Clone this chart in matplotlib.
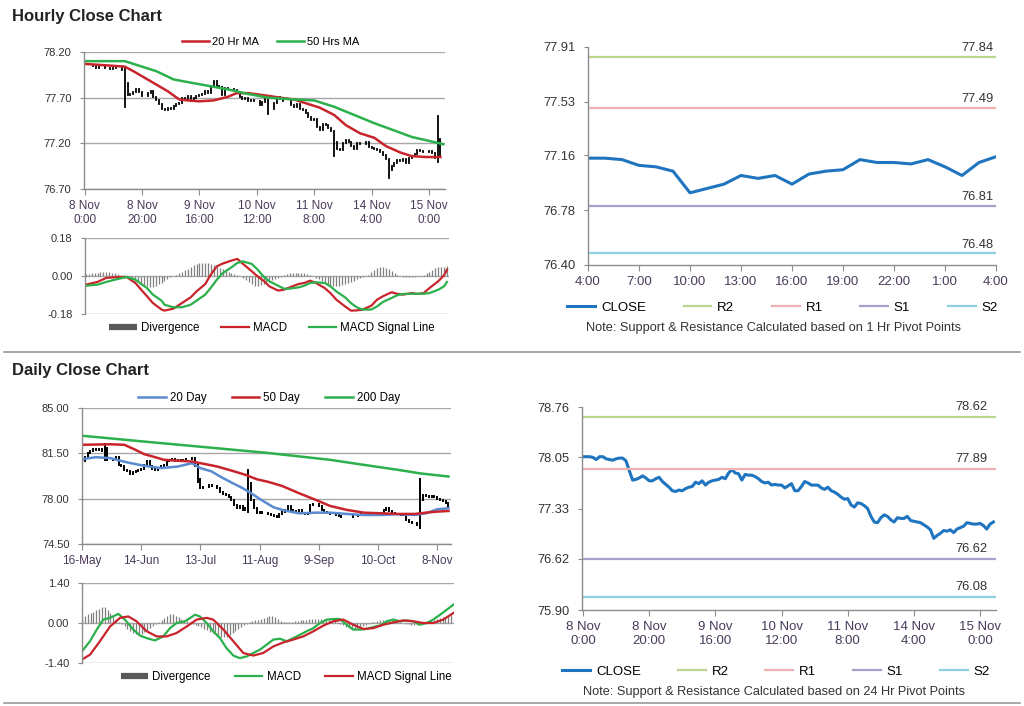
import numpy as np
import matplotlib
matplotlib.use('Agg')
import matplotlib.pyplot as plt
from matplotlib.lines import Line2D

plt.rcParams['font.family'] = ['Liberation Sans', 'DejaVu Sans']

# ---------------- hourly data (8 Nov 0:00 -> 15 Nov) ----------------
hr_labels = ['8 Nov\n0:00', '8 Nov\n20:00', '9 Nov\n16:00', '10 Nov\n12:00',
             '11 Nov\n8:00', '14 Nov\n4:00', '15 Nov\n0:00']
hr_close = [78.06, 78.06, 78.06, 78.05, 78.02, 78.06, 78.06, 78.03, 78.02, 78.01,
            78.03, 78.04, 78.04, 78.00, 77.86, 77.73, 77.74, 77.76, 77.79, 77.76,
            77.72, 77.72, 77.75, 77.77, 77.71, 77.67, 77.63, 77.58, 77.57, 77.59,
            77.58, 77.61, 77.63, 77.64, 77.70, 77.68, 77.72, 77.66, 77.70, 77.72,
            77.73, 77.74, 77.77, 77.75, 77.83, 77.88, 77.83, 77.82, 77.73, 77.81,
            77.80, 77.80, 77.78, 77.75, 77.71, 77.69, 77.70, 77.66, 77.67, 77.66,
            77.66, 77.62, 77.65, 77.68, 77.58, 77.58, 77.64, 77.71, 77.69, 77.66,
            77.66, 77.66, 77.62, 77.60, 77.63, 77.58, 77.56, 77.53, 77.49, 77.46,
            77.47, 77.38, 77.35, 77.41, 77.40, 77.37, 77.33, 77.22, 77.14, 77.13,
            77.20, 77.24, 77.22, 77.17, 77.14, 77.20, 77.19, 77.19, 77.22, 77.16,
            77.15, 77.14, 77.13, 77.10, 77.07, 77.03, 76.91, 76.95, 76.98, 77.02,
            77.01, 77.03, 76.99, 77.04, 77.06, 77.08, 77.13, 77.12, 77.11, 77.11,
            77.12, 77.09, 77.04, 77.11, 77.14]
hr_spikes = {14: (77.60, 78.02), 64: (77.52, 77.66), 87: (77.06, 77.30),
             106: (76.82, 77.00), 123: (77.00, 77.50), 124: (77.05, 77.25)}
hr_ma20_x = [0, 14, 17, 23, 29, 33, 36, 40, 45, 50, 53, 57, 64, 68, 73, 77, 82,
             87, 91, 96, 101, 105, 110, 114, 119, 124]
hr_ma20 = [78.07, 78.04, 77.99, 77.88, 77.77, 77.68, 77.67, 77.66, 77.67, 77.71,
           77.75, 77.75, 77.72, 77.70, 77.68, 77.64, 77.59, 77.51, 77.40, 77.31,
           77.26, 77.17, 77.10, 77.06, 77.05, 77.05]
hr_ma50_x = [0, 14, 20, 25, 31, 36, 43, 50, 57, 64, 73, 80, 87, 94, 101, 108, 114, 121, 125]
hr_ma50 = [78.10, 78.10, 78.04, 77.99, 77.90, 77.87, 77.83, 77.79, 77.74, 77.70,
           77.68, 77.67, 77.60, 77.51, 77.42, 77.34, 77.27, 77.22, 77.19]

hr_macd_x = [0, 4, 7, 11, 14, 17, 19, 21, 23, 26, 27, 30, 33, 36, 38, 41, 43, 45,
             47, 50, 52, 54, 57, 59, 61, 63, 66, 68, 70, 73, 75, 77, 79, 82, 84,
             86, 89, 91, 93, 95, 98, 100, 102, 105, 107, 109, 112, 114, 116, 118,
             121, 123, 124]
hr_macd = [-0.041, -0.028, -0.009, -0.005, -0.005, -0.033, -0.065, -0.096, -0.128,
           -0.159, -0.164, -0.155, -0.128, -0.101, -0.073, -0.038, 0.009, 0.046,
           0.059, 0.073, 0.081, 0.057, 0.022, -0.002, -0.022, -0.049, -0.069,
           -0.065, -0.054, -0.038, -0.033, -0.022, -0.033, -0.057, -0.081, -0.112,
           -0.144, -0.164, -0.163, -0.159, -0.141, -0.112, -0.096, -0.077, -0.085,
           -0.088, -0.081, -0.085, -0.081, -0.057, -0.025, 0.003, 0.030]
hr_signal = [-0.046, -0.041, -0.028, -0.014, -0.005, -0.017, -0.038, -0.057, -0.088,
             -0.117, -0.136, -0.148, -0.148, -0.136, -0.117, -0.088, -0.054, -0.017,
             0.014, 0.041, 0.062, 0.069, 0.057, 0.030, -0.002, -0.025, -0.046,
             -0.060, -0.060, -0.054, -0.046, -0.033, -0.030, -0.033, -0.049, -0.073,
             -0.101, -0.128, -0.148, -0.159, -0.159, -0.144, -0.123, -0.104, -0.091,
             -0.085, -0.084, -0.084, -0.084, -0.081, -0.065, -0.049, -0.028]
hr_div = [0.008, 0.01, 0.012, 0.014, 0.016, 0.018, 0.02, 0.02, 0.018, 0.015,
          0.012, 0.008, 0.005, 0.003, 0.0, -0.008, -0.015, -0.022, -0.03, -0.036,
          -0.042, -0.046, -0.05, -0.05, -0.046, -0.04, -0.032, -0.022, -0.014, -0.006,
          -0.002, 0.005, 0.012, 0.02, 0.028, 0.035, 0.042, 0.05, 0.055, 0.06,
          0.062, 0.062, 0.06, 0.058, 0.052, 0.045, 0.04, 0.032, 0.026, 0.02,
          0.014, 0.008, 0.003, 0.0, -0.01, -0.02, -0.03, -0.04, -0.048, -0.048,
          -0.044, -0.04, -0.034, -0.028, -0.02, -0.014, -0.008, -0.003, 0.004, 0.008,
          0.012, 0.014, 0.016, 0.016, 0.015, 0.013, 0.01, 0.006, 0.002, -0.008,
          -0.016, -0.024, -0.032, -0.038, -0.042, -0.045, -0.046, -0.045, -0.042, -0.038,
          -0.033, -0.028, -0.022, -0.016, -0.01, -0.006, -0.002, 0.006, 0.018, 0.03,
          0.038, 0.042, 0.042, 0.04, 0.034, 0.024, 0.012, 0.004, -0.002, -0.003,
          -0.003, -0.004, -0.004, -0.003, -0.002, 0.0, 0.004, 0.012, 0.02, 0.03,
          0.038, 0.043, 0.045, 0.045, 0.046]

# ---------------- 1 hr pivot chart ----------------
pv1_labels = ['4:00', '7:00', '10:00', '13:00', '16:00', '19:00', '22:00', '1:00', '4:00']
pv1_close = [77.14, 77.14, 77.13, 77.09, 77.08, 77.05, 76.90, 76.93, 76.96, 77.02,
             77.00, 77.02, 76.96, 77.03, 77.05, 77.06, 77.13, 77.11, 77.11, 77.10,
             77.13, 77.08, 77.02, 77.11, 77.15]
pv1_levels = [77.84, 77.49, 76.81, 76.48]
pv1_ticks = [76.40, 76.78, 77.16, 77.53, 77.91]

# ---------------- 24 hr pivot chart (same hourly closes) ----------------
pv24_levels = [78.62, 77.89, 76.62, 76.08]
pv24_ticks = [75.90, 76.62, 77.33, 78.05, 78.76]
level_names = ['R2', 'R1', 'S1', 'S2']

# ---------------- daily data (16 May -> 15 Nov) ----------------
d_labels = ['16-May', '14-Jun', '13-Jul', '11-Aug', '9-Sep', '10-Oct', '8-Nov']
d_close = [80.9, 81.2, 81.5, 81.7, 81.8, 81.75, 81.85, 81.7, 81.9, 81.0,
           80.95, 81.1, 81.2, 80.6, 80.5, 80.2, 80.1, 79.9, 80.05, 80.15,
           80.2, 80.3, 80.6, 80.9, 80.5, 80.3, 80.2, 80.4, 80.5, 80.6,
           80.9, 81.0, 81.1, 80.9, 81.0, 80.9, 81.0, 81.1, 81.05, 81.15,
           80.5, 79.5, 78.8, 78.9, 78.9, 79.05, 79.0, 78.95, 78.8, 78.55,
           78.35, 78.3, 78.1, 77.9, 77.5, 77.26, 77.4, 77.1, 77.3, 79.2,
           77.9, 77.3, 76.9, 76.95, 76.9, 76.9, 76.8, 76.75, 76.7, 76.6,
           76.85, 77.0, 77.1, 77.4, 77.15, 77.05, 77.0, 77.1, 76.9, 76.85,
           76.9, 77.5, 77.6, 77.55, 77.4, 77.1, 76.95, 76.9, 76.85, 76.8,
           76.75, 76.65, 76.6, 76.55, 76.6, 76.6, 76.65, 76.7, 76.75, 76.8,
           76.85, 76.82, 76.82, 76.85, 76.8, 76.85, 76.9, 77.1, 77.3, 77.05,
           76.9, 76.85, 76.8, 76.75, 76.85, 76.35, 76.2, 76.15, 76.1, 76.0,
           77.9, 78.3, 78.2, 78.15, 78.2, 78.1, 77.95, 77.9, 77.8, 77.65,
           77.3]
d_spikes = {8: (81.0, 82.2), 41: (79.3, 80.7), 59: (77.0, 80.2), 120: (75.7, 79.55)}
d_ma20_x = [0, 5, 10, 16, 22, 28, 34, 39, 42, 46, 49, 53, 57, 60, 64, 68, 72, 77,
            83, 88, 94, 100, 106, 112, 118, 122, 126, 130]
d_ma20 = [81.05, 81.2, 81.13, 80.8, 80.54, 80.36, 80.48, 80.74, 80.36, 80.1,
          79.71, 79.25, 78.81, 78.42, 77.85, 77.33, 77.08, 76.87, 76.92, 76.92,
          76.82, 76.74, 76.74, 76.8, 76.74, 76.87, 77.18, 77.26]
d_ma50_x = [0, 10, 15, 19, 22, 26, 29, 34, 39, 43, 48, 53, 58, 62, 66, 71, 77, 83,
            88, 94, 100, 106, 112, 118, 122, 126, 130]
d_ma50 = [82.16, 82.2, 82.16, 81.77, 81.44, 81.2, 81.0, 80.93, 80.87, 80.7,
          80.48, 80.17, 79.84, 79.5, 79.3, 78.98, 78.42, 77.9, 77.44, 77.13,
          76.92, 76.87, 76.82, 76.82, 76.92, 77.0, 77.05]
d_ma200_x = [0, 20, 40, 65, 88, 100, 112, 120, 130]
d_ma200 = [82.86, 82.45, 82.05, 81.55, 81.0, 80.61, 80.23, 79.95, 79.71]

d_macd_x = [0, 2.8, 5.2, 7.5, 9.9, 12.8, 15.1, 18.1, 20.4, 22.8, 25.7, 28.6, 31,
            33.3, 36.3, 39.8, 41.5, 43.9, 46.2, 48.6, 50.9, 53.3, 55.6, 58, 60.3,
            62.7, 65, 67.4, 69.7, 72.1, 74.4, 76.8, 79.1, 81.5, 83.8, 86.2, 88.5,
            90.8, 93.2, 95.5, 97.9, 100.2, 102.6, 104.9, 107.3, 109.6, 112, 114.3,
            116.7, 119, 121.4, 123.7, 126.1, 128.5, 130.8]
d_macd = [-0.99, -0.64, -0.23, 0.12, 0.18, 0.32, 0.12, -0.23, -0.44, -0.53, -0.61,
          -0.47, -0.18, 0.0, 0.06, 0.29, 0.23, 0.0, -0.29, -0.53, -0.88, -1.14,
          -1.23, -1.17, -1.05, -0.93, -0.76, -0.58, -0.55, -0.64, -0.53, -0.41,
          -0.29, -0.18, 0.0, 0.12, 0.14, 0.14, -0.06, -0.23, -0.23, -0.21, -0.14,
          -0.09, 0.06, 0.12, 0.06, 0.09, 0.06, -0.06, 0.0, 0.12, 0.29, 0.47, 0.64]
d_signal_x = [0, 2.8, 6.3, 9.9, 13.4, 16.3, 19.2, 22.8, 26.3, 29.8, 33.3, 36.9, 40.4,
              43.9, 46.2, 49.8, 53.3, 56.8, 60.3, 63.8, 67.4, 70.9, 74.4, 77.9, 81.5,
              85, 88.5, 92, 95.5, 99.1, 102.6, 106.1, 109.6, 113.1, 116.7, 120.2,
              123.7, 127.2, 130.8]
d_signal = [-1.28, -1.11, -0.64, -0.12, 0.18, 0.23, 0.06, -0.29, -0.47, -0.47, -0.35,
            -0.12, 0.12, 0.18, 0.12, -0.23, -0.64, -1.05, -1.14, -1.05, -0.82, -0.68,
            -0.58, -0.47, -0.29, -0.09, 0.06, 0.12, -0.06, -0.21, -0.18, -0.06, 0.02,
            0.09, 0.06, 0.0, 0.0, 0.12, 0.35]
d_div = [0.2, 0.25, 0.3, 0.35, 0.4, 0.45, 0.5, 0.55, 0.55, 0.45, 0.35, 0.25, 0.15, 0.05,
         -0.05, -0.12, -0.2, -0.28, -0.35, -0.4, -0.42, -0.38, -0.32, -0.25, -0.18, -0.1, -0.04,
         0.04, 0.1, 0.18, 0.25, 0.3, 0.3, 0.26, 0.2, 0.15, 0.1, 0.06, 0.03,
         -0.02, -0.06, -0.1, -0.15, -0.2, -0.25, -0.3, -0.35, -0.4, -0.45, -0.5, -0.5,
         -0.48, -0.42, -0.35, -0.28, -0.2, -0.13, -0.07, -0.02,
         0.03, 0.06, 0.09, 0.12, 0.15, 0.18, 0.22, 0.25, 0.24, 0.2, 0.14, 0.08, 0.03,
         0.02, 0.03, 0.05, 0.06, 0.08, 0.1, 0.11, 0.12, 0.13, 0.14, 0.14, 0.14, 0.13,
         0.12, 0.11, 0.1, 0.08, 0.06, 0.03,
         -0.03, -0.08, -0.13, -0.17, -0.2, -0.2, -0.18, -0.14, -0.1, -0.06, -0.03,
         0.02, 0.04, 0.07, 0.09, 0.1, 0.11, 0.1, 0.09, 0.07, 0.05, 0.03,
         -0.01, -0.03, -0.05, -0.07, -0.08, -0.06, -0.03,
         0.0, 0.03, 0.06, 0.09, 0.12, 0.15, 0.18, 0.2, 0.22, 0.25, 0.28]

# ---------------- styling ----------------
RED = '#c8242b'
GREEN = '#2bb04c'
BLUE20 = '#5a8bd0'
CLOSE_BLUE = '#1f74bf'
LEVEL_COLORS = ['#b9d58e', '#eeb0b0', '#ad9fcb', '#91d0e2']
GRID = '#a8a8a8'
SPINE = '#8c8c8c'
TXT = '#333333'
XTXT = '#4a3a5a'

W, H = 1024, 706
fig = plt.figure(figsize=(W / 100, H / 100), dpi=100)


def px_axes(x0, y0, x1, y1):
    return fig.add_axes([x0 / W, 1 - y1 / H, (x1 - x0) / W, (y1 - y0) / H])


def base_style(ax, yfs, xfs):
    for s in ['top', 'right']:
        ax.spines[s].set_visible(False)
    for s in ['left', 'bottom']:
        ax.spines[s].set_color(SPINE)
        ax.spines[s].set_linewidth(1.0)
    ax.tick_params(axis='y', length=3, color=SPINE, labelsize=yfs, labelcolor=TXT, pad=6)
    ax.tick_params(axis='x', length=4, color=SPINE, labelsize=xfs, labelcolor=XTXT, pad=4)


def grid_y(ax):
    ax.yaxis.grid(True, color=GRID, lw=1.0)
    ax.set_axisbelow(True)


def draw_bars(ax, close, spikes, lw):
    c = np.array(close)
    prev = np.r_[c[0], c[:-1]]
    lo = np.minimum(prev, c)
    hi = np.maximum(prev, c)
    for i, (a, b) in spikes.items():
        lo[i] = min(lo[i], a)
        hi[i] = max(hi[i], b)
    ax.vlines(np.arange(len(c)), lo, hi, color='black', lw=lw, capstyle='projecting')


def fmt_ticks(ax, ticks):
    ax.set_yticks(ticks)
    ax.set_yticklabels(['%.2f' % t for t in ticks])


def legend_at(ax, handles, labels, anchor, fs, colsp, hl=2.4, htp=0.35):
    ax.legend(handles, labels, loc='center', bbox_to_anchor=anchor, ncol=len(labels),
              frameon=False, fontsize=fs, columnspacing=colsp, handlelength=hl,
              handletextpad=htp, borderaxespad=0, borderpad=0)


div_handle = Line2D([], [], color='#595959', lw=4.5, solid_capstyle='butt')

# ---------- Hourly close chart ----------
ax = px_axes(84, 52, 445, 189)
base_style(ax, 8, 8.5)
grid_y(ax)
draw_bars(ax, hr_close, hr_spikes, 1.3)
l1, = ax.plot(hr_ma20_x, hr_ma20, color=RED, lw=1.8)
l2, = ax.plot(hr_ma50_x, hr_ma50, color=GREEN, lw=1.8)
ax.set_xlim(-0.2, 125.6)
ax.set_ylim(76.70, 78.20)
fmt_ticks(ax, [76.70, 77.20, 77.70, 78.20])
ax.set_xticks(np.arange(len(hr_labels)) * 20)
ax.set_xticklabels(hr_labels, linespacing=1.2)
legend_at(ax, [l1, l2], ['20 Hr MA', '50 Hrs MA'], (0.517, 1.075), 8, 1.7, htp=0.25)

ax = px_axes(85, 238, 449, 314)
base_style(ax, 8, 8.5)
grid_y(ax)
ax.spines['bottom'].set_visible(False)
ax.vlines(np.arange(len(hr_div)), 0, hr_div, color='#808080', lw=0.9)
m1, = ax.plot(hr_macd_x, hr_macd, color=RED, lw=1.6)
m2, = ax.plot(hr_macd_x, hr_signal, color=GREEN, lw=1.6)
ax.set_xlim(-0.3, 124.7)
ax.set_ylim(-0.18, 0.18)
fmt_ticks(ax, [-0.18, 0.0, 0.18])
ax.set_xticks([])
legend_at(ax, [div_handle, m1, m2], ['Divergence', 'MACD', 'MACD Signal Line'],
          (0.514, -0.185), 8.3, 1.9)

# ---------- 1 hr pivot chart ----------
ax = px_axes(588, 47, 996, 265)
base_style(ax, 9.3, 9.5)
cl, = ax.plot(np.arange(len(pv1_close)), pv1_close, color=CLOSE_BLUE, lw=2.2)
lv = []
for v, col in zip(pv1_levels, LEVEL_COLORS):
    h, = ax.plot([0, len(pv1_close) - 1], [v, v], color=col, lw=1.6)
    lv.append(h)
    ax.annotate('%.2f' % v, xy=(1, v), xycoords=('axes fraction', 'data'), xytext=(-2, 2),
                textcoords='offset points', ha='right', va='bottom', fontsize=9.3, color=TXT)
ax.set_xlim(0, len(pv1_close) - 1)
ax.set_ylim(pv1_ticks[0], pv1_ticks[-1])
fmt_ticks(ax, pv1_ticks)
ax.set_xticks(np.arange(len(pv1_labels)) * 3)
ax.set_xticklabels(pv1_labels)
legend_at(ax, [cl] + lv, ['CLOSE'] + level_names, (0.477, -0.195), 9.5, 2.85, hl=2.1, htp=0.45)
fig.text(773 / W, 1 - 328 / H, 'Note: Support & Resistance Calculated based on 1 Hr Pivot Points',
         ha='center', va='center', fontsize=9.2, color=TXT)

# ---------- Daily close chart ----------
ax = px_axes(82, 408, 451, 544)
base_style(ax, 8, 8.5)
grid_y(ax)
draw_bars(ax, d_close, d_spikes, 1.4)
a1, = ax.plot(d_ma20_x, d_ma20, color=BLUE20, lw=1.8)
a2, = ax.plot(d_ma50_x, d_ma50, color=RED, lw=1.8)
a3, = ax.plot(d_ma200_x, d_ma200, color=GREEN, lw=1.8)
ax.set_xlim(0, 130.9)
ax.set_ylim(74.5, 85.0)
fmt_ticks(ax, [74.5, 78.0, 81.5, 85.0])
ax.set_xticks(np.arange(len(d_labels)) * 21)
ax.set_xticklabels(d_labels)
legend_at(ax, [a1, a2, a3], ['20 Day', '50 Day', '200 Day'], (0.507, 1.074), 8.3, 2.2)

ax = px_axes(82, 583, 454, 663)
base_style(ax, 8, 8.5)
grid_y(ax)
ax.spines['bottom'].set_visible(False)
ax.vlines(np.arange(len(d_div)), 0, d_div, color='#808080', lw=0.9)
n1, = ax.plot(d_macd_x, d_macd, color=GREEN, lw=1.6)
n2, = ax.plot(d_signal_x, d_signal, color=RED, lw=1.6)
ax.set_xlim(0, 131)
ax.set_ylim(-1.4, 1.4)
fmt_ticks(ax, [-1.4, 0.0, 1.4])
ax.set_xticks([])
legend_at(ax, [div_handle, n1, n2], ['Divergence', 'MACD', 'MACD Signal Line'],
          (0.548, -0.175), 8.3, 2.1)

# ---------- 24 hr pivot chart ----------
ax = px_axes(582, 407, 996, 610)
base_style(ax, 9.3, 9.5)
cl, = ax.plot(np.arange(len(hr_close)), hr_close, color=CLOSE_BLUE, lw=2.2)
lv = []
for v, col in zip(pv24_levels, LEVEL_COLORS):
    h, = ax.plot([-0.3, 124.8], [v, v], color=col, lw=1.6)
    lv.append(h)
    ax.annotate('%.2f' % v, xy=(1, v), xycoords=('axes fraction', 'data'), xytext=(-6, 3),
                textcoords='offset points', ha='right', va='bottom', fontsize=9.3, color=TXT)
ax.set_xlim(-0.3, 124.8)
ax.set_ylim(pv24_ticks[0], pv24_ticks[-1])
fmt_ticks(ax, pv24_ticks)
ax.set_xticks(np.arange(len(hr_labels)) * 20)
ax.set_xticklabels(hr_labels, linespacing=1.2)
legend_at(ax, [cl] + lv, ['CLOSE'] + level_names, (0.469, -0.305), 9.5, 2.8, hl=2.1, htp=0.45)
fig.text(774 / W, 1 - 692 / H, 'Note: Support & Resistance Calculated based on 24 Hr Pivot Points',
         ha='center', va='center', fontsize=9.2, color=TXT)

# ---------- titles and separators ----------
fig.text(12 / W, 1 - 16 / H, 'Hourly Close Chart', ha='left', va='center',
         fontsize=12, fontweight='bold', color='#222222')
fig.text(12 / W, 1 - 370 / H, 'Daily Close Chart', ha='left', va='center',
         fontsize=12, fontweight='bold', color='#222222')
for yy in [352, 703]:
    fig.add_artist(Line2D([4 / W, 1020 / W], [1 - yy / H] * 2, color='#9a9a9a', lw=1.2))

fig.savefig('out.png', dpi=100)
